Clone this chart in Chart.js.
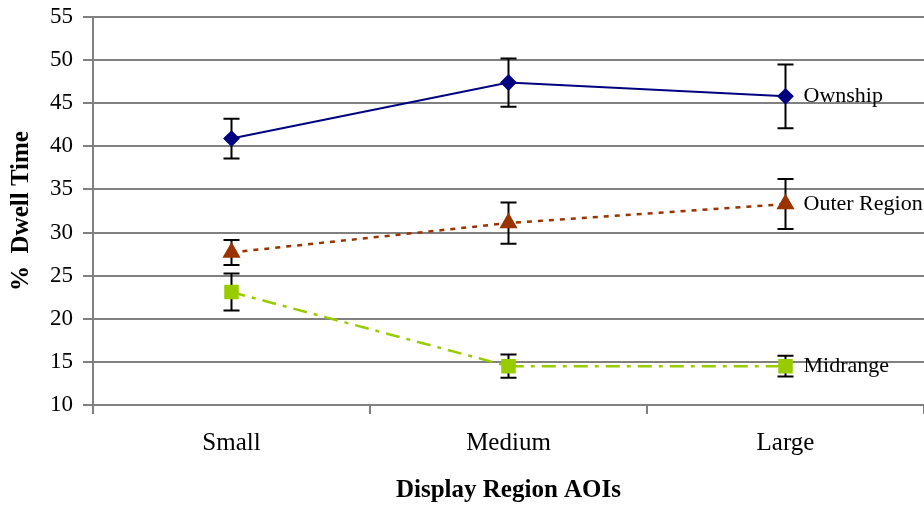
<!DOCTYPE html>
<html>
<head>
<meta charset="utf-8">
<script src="https://cdn.jsdelivr.net/npm/chart.js@4.4.0/dist/chart.umd.min.js"></script>
<style>
  html, body { margin: 0; padding: 0; background: #fff; }
  #wrap { width: 924px; height: 506px; overflow: hidden; }
</style>
</head>
<body>
<div id="wrap"><canvas id="myChart" width="935" height="506"></canvas></div>
<script>
// Dữ liệu
const categories = ['Small', 'Medium', 'Large'];
const ownship = [40.9, 47.4, 45.8];
const ownshipErr = [2.3, 2.8, 3.7];
const outerRegion = [27.7, 31.1, 33.3];
const outerRegionErr = [1.45, 2.4, 2.9];
const midrange = [23.1, 14.5, 14.5];
const midrangeErr = [2.15, 1.35, 1.2];
const yTicks = [10, 15, 20, 25, 30, 35, 40, 45, 50, 55];

const errors = [ownshipErr, outerRegionErr, midrangeErr];
const seriesNames = ['Ownship', 'Outer Region', 'Midrange'];

const serif = '"Liberation Serif", "Times New Roman", serif';

// Plugin vẽ thanh sai số + nhãn cuối đường
const errorBarPlugin = {
  id: 'errorBarPlugin',
  beforeDatasetsDraw(chart) {
    const ctx = chart.ctx;
    const y = chart.scales.y;
    ctx.save();
    ctx.strokeStyle = '#000';
    ctx.lineWidth = 2;
    chart.data.datasets.forEach((ds, i) => {
      const meta = chart.getDatasetMeta(i);
      meta.data.forEach((pt, j) => {
        const v = ds.data[j];
        const e = errors[i][j];
        const top = y.getPixelForValue(v + e);
        const bot = y.getPixelForValue(v - e);
        const x = pt.x;
        ctx.beginPath();
        ctx.moveTo(x, top); ctx.lineTo(x, bot);
        ctx.moveTo(x - 8, top); ctx.lineTo(x + 8, top);
        ctx.moveTo(x - 8, bot); ctx.lineTo(x + 8, bot);
        ctx.stroke();
      });
    });
    ctx.restore();
  },
  afterDatasetsDraw(chart) {
    const ctx = chart.ctx;
    ctx.save();
    ctx.fillStyle = '#000';
    ctx.font = '22px ' + serif;
    ctx.textBaseline = 'middle';
    chart.data.datasets.forEach((ds, i) => {
      const meta = chart.getDatasetMeta(i);
      const last = meta.data[meta.data.length - 1];
      ctx.fillText(seriesNames[i], last.x + 18, last.y);
    });
    ctx.restore();
  }
};

const config = {
  type: 'line',
  data: {
    labels: categories,
    datasets: [
      {
        label: 'Ownship',
        data: ownship,
        borderColor: '#000080',
        backgroundColor: '#000080',
        borderWidth: 2,
        pointStyle: 'rectRot',
        pointRadius: 7,
        tension: 0
      },
      {
        label: 'Outer Region',
        data: outerRegion,
        borderColor: '#993300',
        backgroundColor: '#993300',
        borderWidth: 2.5,
        borderDash: [5, 6],
        pointStyle: 'triangle',
        pointRadius: 8,
        tension: 0
      },
      {
        label: 'Midrange',
        data: midrange,
        borderColor: '#99CC00',
        backgroundColor: '#99CC00',
        borderWidth: 2.5,
        borderDash: [14, 7, 4, 7],
        pointStyle: 'rect',
        pointRadius: 8.5,
        tension: 0
      }
    ]
  },
  options: {
    responsive: false,
    animation: false,
    layout: { padding: { top: 17, right: 0, left: 0, bottom: 0 } },
    plugins: {
      legend: { display: false },
      tooltip: { enabled: false }
    },
    scales: {
      x: {
        offset: true,
        afterFit(axis) {
          axis.height = 101;
          axis.paddingLeft = 0;
          axis.paddingRight = 0;
        },
        grid: {
          offset: true,
          drawOnChartArea: false,
          drawTicks: true,
          tickLength: 9,
          color: '#808080',
          lineWidth: 2
        },
        border: { color: '#808080', width: 2 },
        ticks: {
          color: '#000',
          font: { family: serif, size: 25 },
          padding: 14
        },
        title: {
          display: true,
          text: 'Display Region AOIs',
          color: '#000',
          font: { family: serif, size: 25, weight: 'bold' },
          padding: { top: 0, bottom: 0 }
        }
      },
      y: {
        min: 10,
        max: 55,
        afterFit(axis) {
          axis.width = 93;
          axis.paddingTop = 0;
          axis.paddingBottom = 0;
        },
        afterBuildTicks(axis) {
          axis.ticks = yTicks.map(v => ({ value: v }));
        },
        grid: {
          color: '#808080',
          lineWidth: 2,
          tickLength: 10
        },
        border: { color: '#808080', width: 2 },
        ticks: {
          color: '#000',
          font: { family: serif, size: 23 },
          padding: 10
        },
        title: {
          display: true,
          text: '%  Dwell Time',
          color: '#000',
          font: { family: serif, size: 25, weight: 'bold' },
          padding: { top: 7, bottom: 0 }
        }
      }
    }
  },
  plugins: [errorBarPlugin]
};

const ctx = document.getElementById('myChart');
const myChart = new Chart(ctx, config);
</script>
</body>
</html>
